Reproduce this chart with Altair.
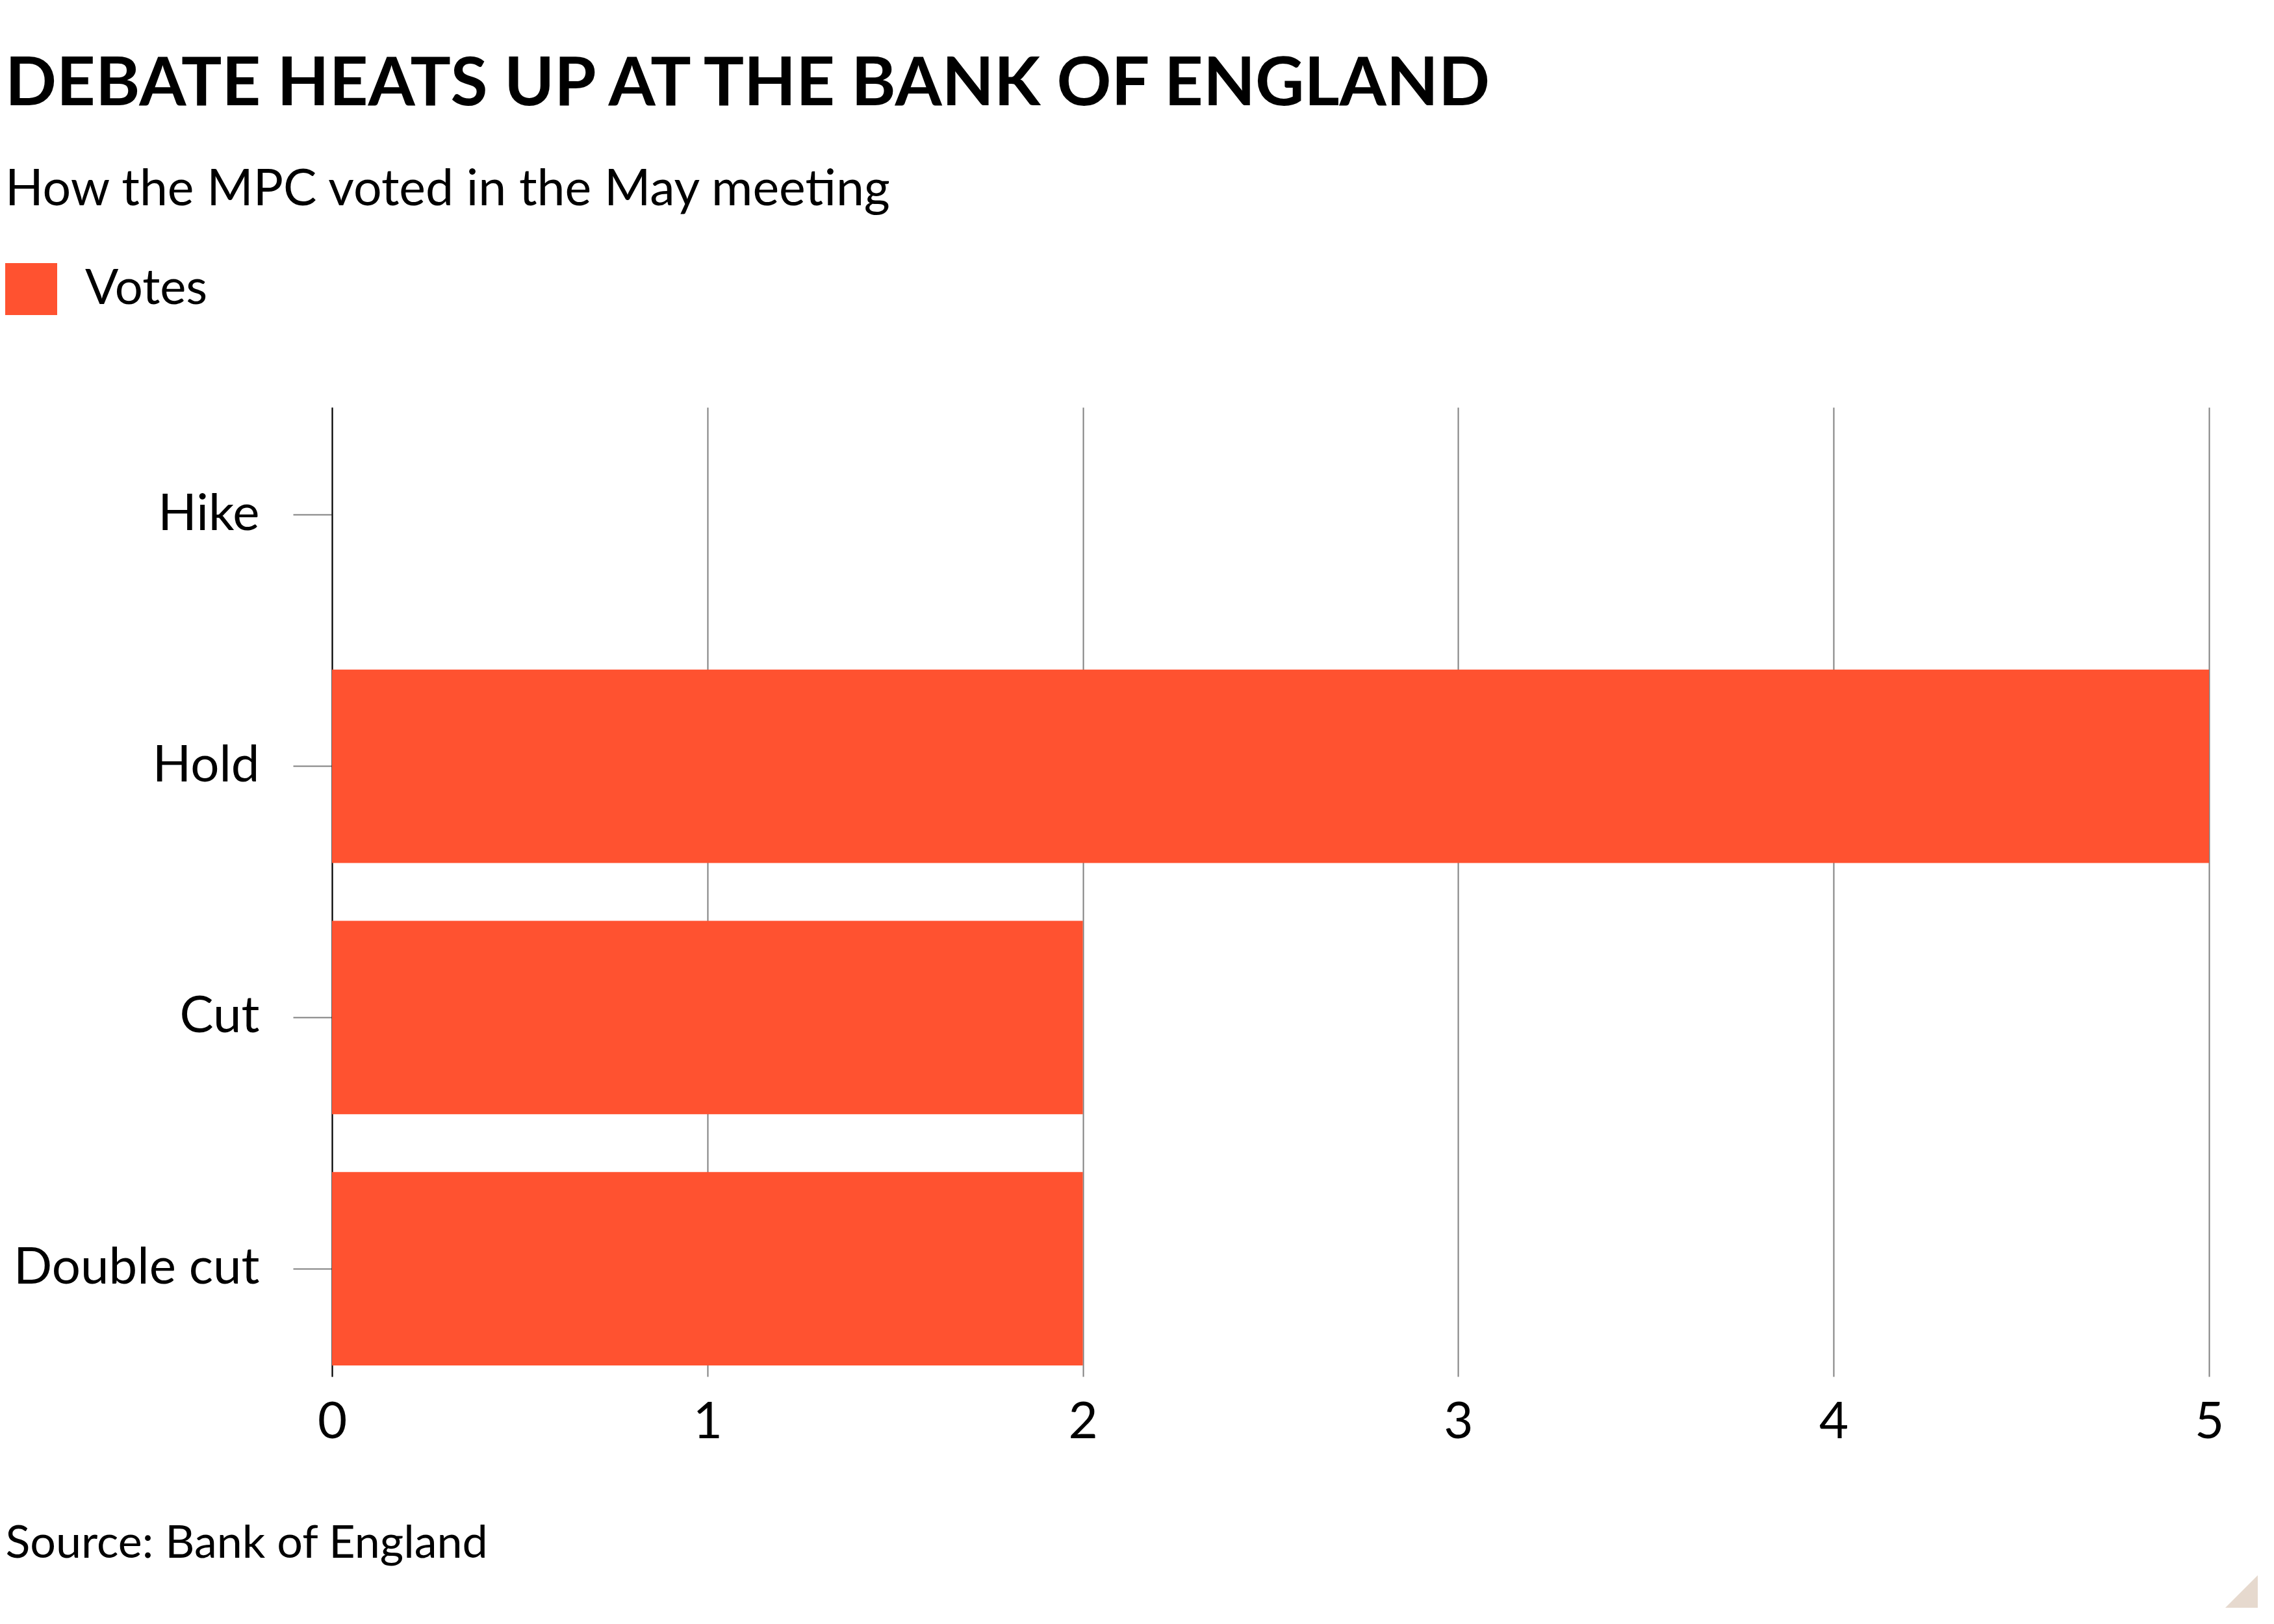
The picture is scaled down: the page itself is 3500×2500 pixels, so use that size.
import altair as alt
import pandas as pd

categories = ["Hike", "Hold", "Cut", "Double cut"]
votes = [0, 5, 2, 2]
series_name = "Votes"
x_ticks = [0, 1, 2, 3, 4, 5]

title_text = "DEBATE HEATS UP AT THE BANK OF ENGLAND"
subtitle_text = "How the MPC voted in the May meeting"
source_text = "Source: Bank of England"

BAR_COLOR = "#ff5230"
FONT = "Lato"

df = pd.DataFrame({"category": categories, "votes": votes, "series": [series_name] * len(categories)})

bars = alt.Chart(df).mark_bar(color=BAR_COLOR).encode(
    y=alt.Y(
        "category:N",
        sort=categories,
        scale=alt.Scale(paddingInner=0.23, paddingOuter=0.044),
        axis=alt.Axis(
            title=None,
            domain=True, domainColor="#000000", domainWidth=2,
            ticks=True, tickColor="#808080", tickWidth=2, tickSize=60,
            labelFont=FONT, labelFontSize=78, labelColor="#000000",
            labelPadding=52, labelLimit=2000, grid=False,
        ),
    ),
    x=alt.X(
        "votes:Q",
        scale=alt.Scale(domain=[0, 5], nice=False),
        axis=alt.Axis(
            values=x_ticks, format="d",
            domain=False, ticks=False,
            grid=True, gridColor="#808080", gridWidth=2,
            labelFont=FONT, labelFontSize=78, labelColor="#000000",
            labelPadding=32, labelFlush=False, labelLimit=2000,
            title=source_text, titleFont=FONT, titleFontSize=70,
            titleFontWeight="normal", titleColor="#000000",
            titleAnchor="start", titleAlign="left", titleBaseline="alphabetic",
            titleX=-503, titleY=278, titleAngle=0, titleLimit=3000,
        ),
    ),
    color=alt.Color(
        "series:N",
        scale=alt.Scale(domain=[series_name], range=[BAR_COLOR]),
        legend=alt.Legend(
            title=None, orient="none", legendX=-503, legendY=-222,
            symbolType="square", symbolSize=6400, symbolStrokeWidth=0,
            symbolOpacity=1,
            labelFont=FONT, labelFontSize=76, labelColor="#000000",
            labelOffset=43, labelLimit=2000, padding=0,
        ),
    ),
)

corner = alt.Chart(pd.DataFrame({"k": [0]})).mark_point(
    shape="M 1 1 L -1 1 L 1 -1 Z", filled=True, fill="#e6d9ce", opacity=1, strokeWidth=0, size=2500
).encode(x=alt.value(2939), y=alt.value(1823))

chart = alt.layer(bars, corner).properties(
    width=2889,
    height=1492,
    background="#ffffff",
    autosize=alt.AutoSizeParams(type="none"),
    padding={"left": 503, "top": 619, "right": 92, "bottom": 373},
    title=alt.TitleParams(
        text=title_text,
        subtitle=subtitle_text,
        anchor="start",
        frame="group",
        dx=-503,
        offset=73,
        font=FONT, fontSize=104, fontWeight="bold", color="#000000",
        subtitleFont=FONT, subtitleFontSize=77, subtitleColor="#000000",
        subtitlePadding=71, limit=4000,
    ),
).configure_view(stroke=None, strokeWidth=0)

chart.save("out.html", embed_options={"renderer": "svg", "actions": False})
